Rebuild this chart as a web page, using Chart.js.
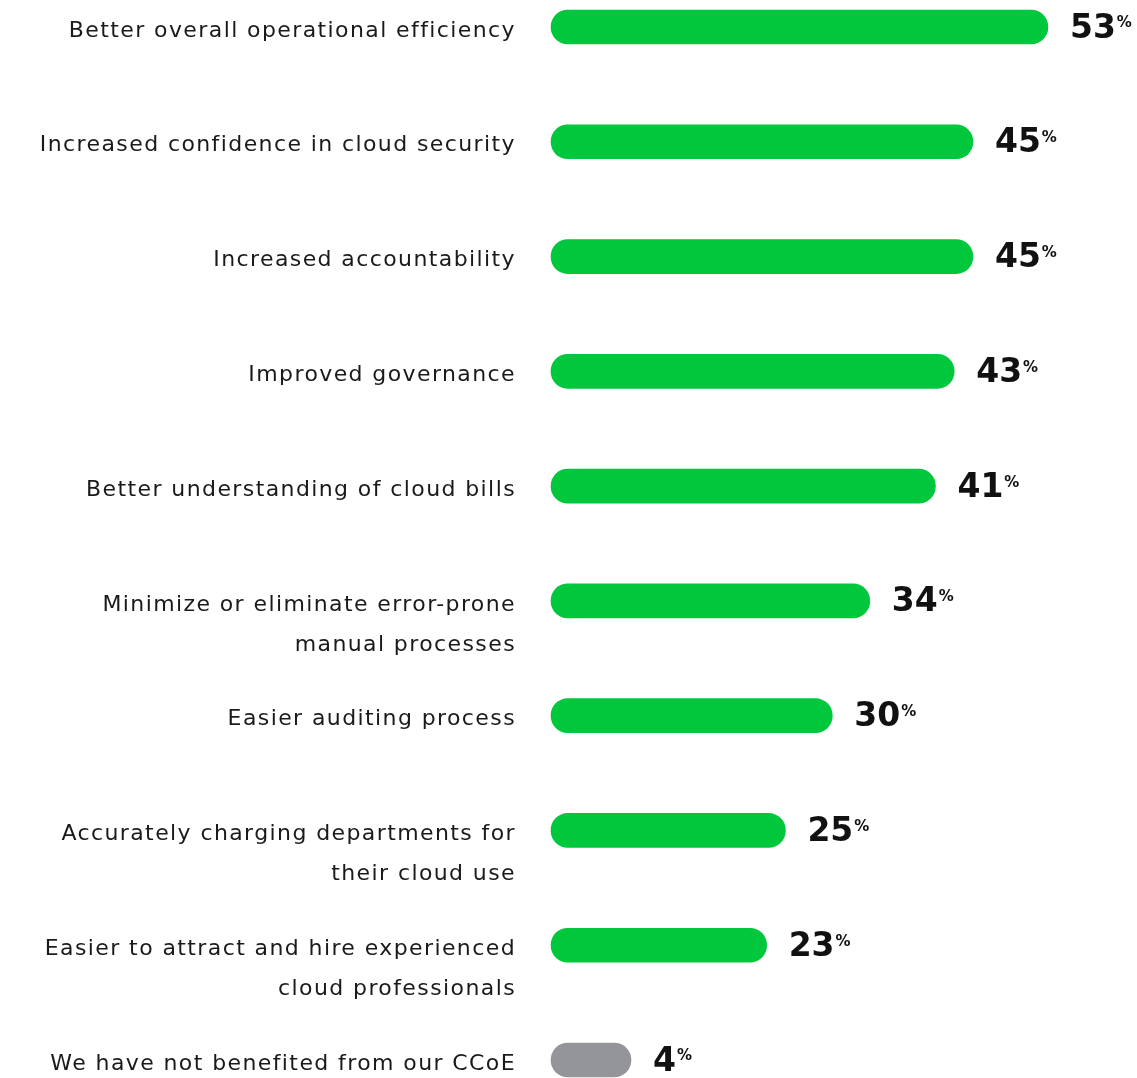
<!DOCTYPE html>
<html>
<head>
<meta charset="utf-8">
<script src="https://cdn.jsdelivr.net/npm/chart.js@4.4.1/dist/chart.umd.min.js"></script>
<style>
  html, body { margin: 0; padding: 0; background: #fff; }
  #wrap { width: 1137px; height: 1078px; position: relative; }
</style>
</head>
<body>
<div id="wrap"><canvas id="myChart"></canvas></div>
<script>
// benefits of a CCoE, share of respondents
const categories = [
    'Better overall operational efficiency',
    'Increased confidence in cloud security',
    'Increased accountability',
    'Improved governance',
    'Better understanding of cloud bills',
    ['', 'Minimize or eliminate error-prone', 'manual processes'],
    'Easier auditing process',
    ['', 'Accurately charging departments for', 'their cloud use'],
    ['', 'Easier to attract and hire experienced', 'cloud professionals'],
    'We have not benefited from our CCoE'
];
const values = [53, 45, 45, 43, 41, 34, 30, 25, 23, 4];
const barColors = ['#00c73c', '#00c73c', '#00c73c', '#00c73c', '#00c73c',
    '#00c73c', '#00c73c', '#00c73c', '#00c73c', '#939598'];

// wider tracking for the category labels (the original font is very wide)
const labelSpacing = {
    id: 'labelSpacing',
    beforeDraw(chart) {
        chart.ctx.letterSpacing = '1.4px';
    }
};

const valueLabels = {
    id: 'valueLabels',
    afterDatasetsDraw(chart) {
        const ctx = chart.ctx;
        const meta = chart.getDatasetMeta(0);
        ctx.save();
        ctx.letterSpacing = '0px';
        meta.data.forEach(function (bar, i) {
            const txt = String(values[i]);
            const x = bar.x + 22;
            const y = bar.y + 2;
            ctx.fillStyle = '#111';
            ctx.textAlign = 'left';
            ctx.textBaseline = 'middle';
            ctx.font = 'bold 33px "DejaVu Sans"';
            ctx.fillText(txt, x, y);
            const w = ctx.measureText(txt).width;
            ctx.font = 'bold 15px "DejaVu Sans"';
            ctx.textBaseline = 'top';
            ctx.fillText('%', x + w + 1, y - 13);
        });
        ctx.restore();
    }
};

const ctx = document.getElementById('myChart');
const myChart = new Chart(ctx, {
    type: 'bar',
    data: {
        labels: categories,
        datasets: [{
            data: values,
            backgroundColor: barColors,
            borderRadius: 17,
            borderSkipped: false,
            barThickness: 34,
            minBarLength: 80,
            clip: false
        }]
    },
    options: {
        indexAxis: 'y',
        responsive: true,
        maintainAspectRatio: false,
        animation: false,
        layout: {
            padding: { top: 27, bottom: 18, left: 0, right: 0 }
        },
        plugins: {
            legend: { display: false },
            tooltip: { enabled: false }
        },
        scales: {
            x: {
                display: false,
                min: 0,
                max: 62.5
            },
            y: {
                offset: false,
                grid: { display: false, drawTicks: false },
                border: { display: false },
                afterFit: function (scale) {
                    scale.width = 551;
                    scale.paddingTop = 0;
                    scale.paddingBottom = 0;
                },
                ticks: {
                    autoSkip: false,
                    padding: 35,
                    labelOffset: 4,
                    color: '#1a1a1a',
                    font: { family: 'DejaVu Sans', size: 22, lineHeight: 1.82 }
                }
            }
        }
    },
    plugins: [labelSpacing, valueLabels]
});
</script>
</body>
</html>
